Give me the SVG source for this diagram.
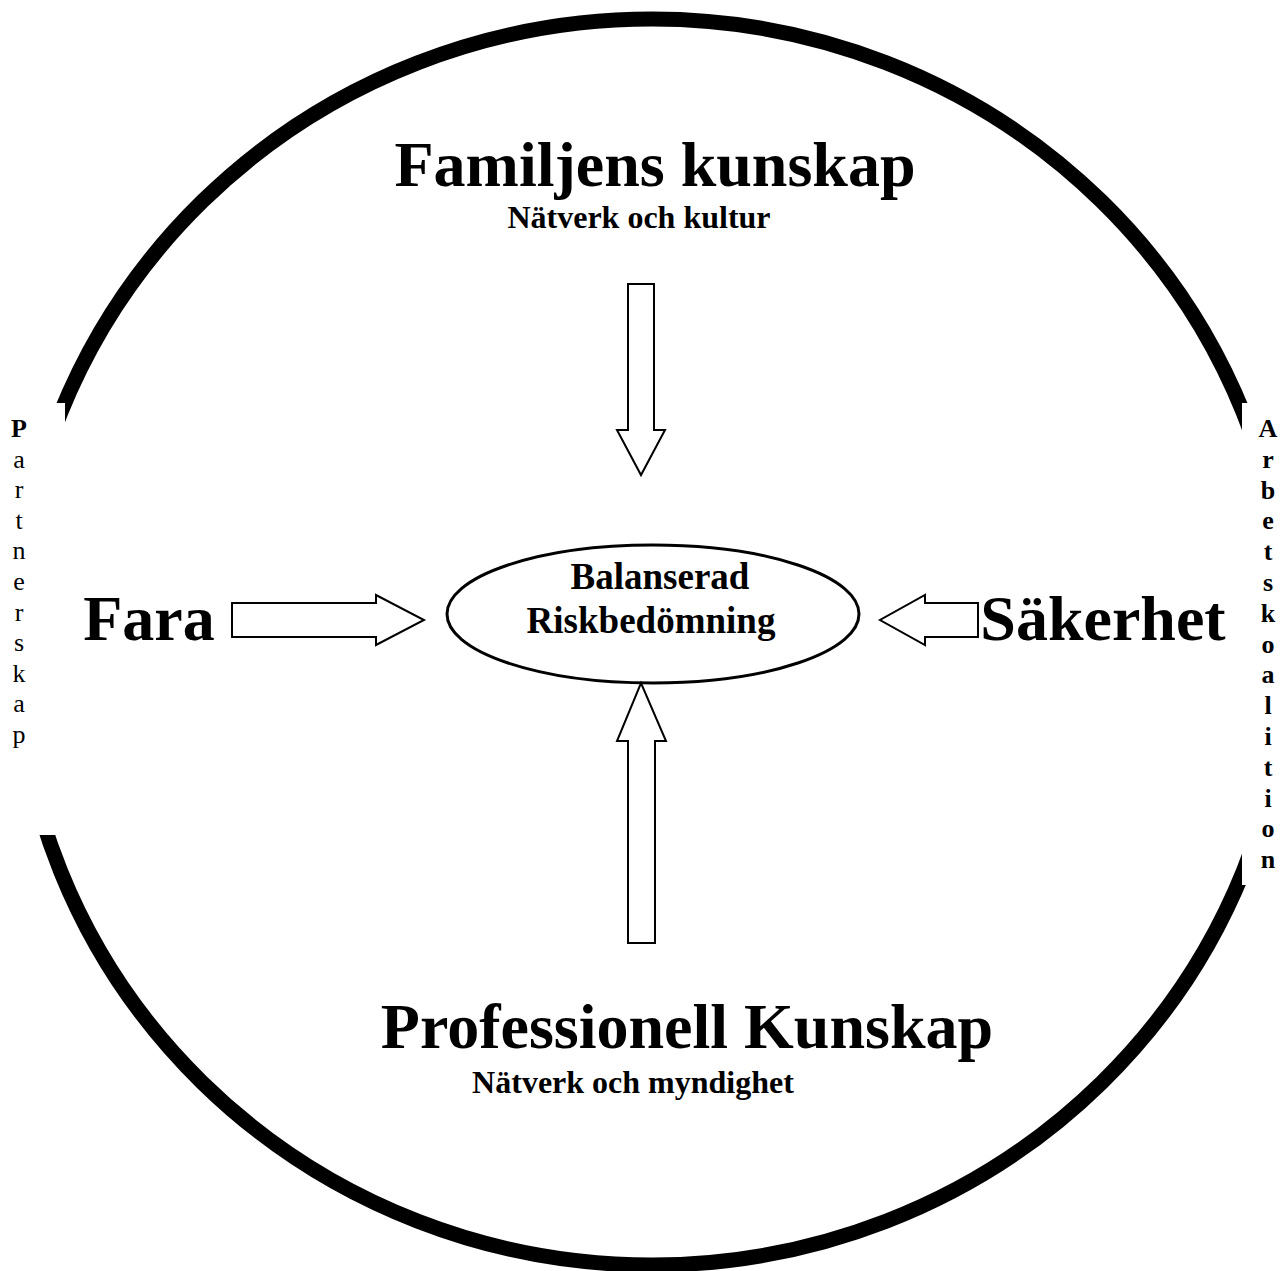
<svg xmlns="http://www.w3.org/2000/svg" width="1286" height="1271" viewBox="0 0 1286 1271">
<style>
.t{font-family:"Liberation Serif","Times New Roman",serif;font-weight:bold;fill:#000}
.big{font-size:64px}
.sub{font-size:32px}
.mid{font-size:37px}
.vt{font-family:"Liberation Serif","Times New Roman",serif;font-size:26px;fill:#000;text-anchor:middle}
.arrow{fill:#fff;stroke:#000;stroke-width:2;stroke-linejoin:miter}
</style>
<rect width="1286" height="1271" fill="#fff"/>
<g id="ring">
<ellipse cx="652" cy="642" rx="636" ry="623" fill="none" stroke="#000" stroke-width="15"/>
<rect x="0" y="403" width="65" height="432" fill="#fff"/>
<rect x="1242" y="403" width="44" height="482" fill="#fff"/>
</g>
<g id="partnerskap">
<text class="vt" x="19" y="437"><tspan x="19" font-weight="bold">P</tspan><tspan x="19" dy="30.6">a</tspan><tspan x="19" dy="30.6">r</tspan><tspan x="19" dy="30.6">t</tspan><tspan x="19" dy="30.6">n</tspan><tspan x="19" dy="30.6">e</tspan><tspan x="19" dy="30.6">r</tspan><tspan x="19" dy="30.6">s</tspan><tspan x="19" dy="30.6">k</tspan><tspan x="19" dy="30.6">a</tspan><tspan x="19" dy="30.6">p</tspan></text>
</g>
<g id="arbetskoalition">
<text class="vt" x="1268" y="437" font-weight="bold"><tspan x="1268">A</tspan><tspan x="1268" dy="30.8">r</tspan><tspan x="1268" dy="30.8">b</tspan><tspan x="1268" dy="30.8">e</tspan><tspan x="1268" dy="30.8">t</tspan><tspan x="1268" dy="30.8">s</tspan><tspan x="1268" dy="30.8">k</tspan><tspan x="1268" dy="30.8">o</tspan><tspan x="1268" dy="30.8">a</tspan><tspan x="1268" dy="30.8">l</tspan><tspan x="1268" dy="30.8">i</tspan><tspan x="1268" dy="30.8">t</tspan><tspan x="1268" dy="30.8">i</tspan><tspan x="1268" dy="30.8">o</tspan><tspan x="1268" dy="30.8">n</tspan></text>
</g>
<g id="familjens">
<text class="t big" x="655" y="186" text-anchor="middle">Familjens kunskap</text>
<text class="t sub" x="639" y="228" text-anchor="middle">Nätverk och kultur</text>
</g>
<g id="professionell">
<text class="t big" x="687" y="1048" text-anchor="middle">Professionell Kunskap</text>
<text class="t sub" x="633" y="1093" text-anchor="middle">Nätverk och myndighet</text>
</g>
<g id="fara">
<text class="t big" x="149" y="640" text-anchor="middle">Fara</text>
</g>
<g id="sakerhet">
<text class="t big" x="1103" y="640" text-anchor="middle">Säkerhet</text>
</g>
<g id="center">
<ellipse cx="653" cy="614" rx="206" ry="69" fill="#fff" stroke="#000" stroke-width="3"/>
<text class="t mid" x="660" y="589" text-anchor="middle">Balanserad</text>
<text class="t mid" x="651" y="633" text-anchor="middle">Riskbedömning</text>
</g>
<g id="connectors">
<path class="arrow" d="M628,284 H654 V430 H665 L641,475 L617,430 H628 Z"/>
<path class="arrow" d="M628,943 H655 V741 H666 L641,683 L617,741 H628 Z"/>
<path class="arrow" d="M232,603 H376 V595 L424,620 L376,645 V637 H232 Z"/>
<path class="arrow" d="M978,603 H925 V595 L880,620 L925,645 V637 H978 Z"/>
</g>
</svg>
